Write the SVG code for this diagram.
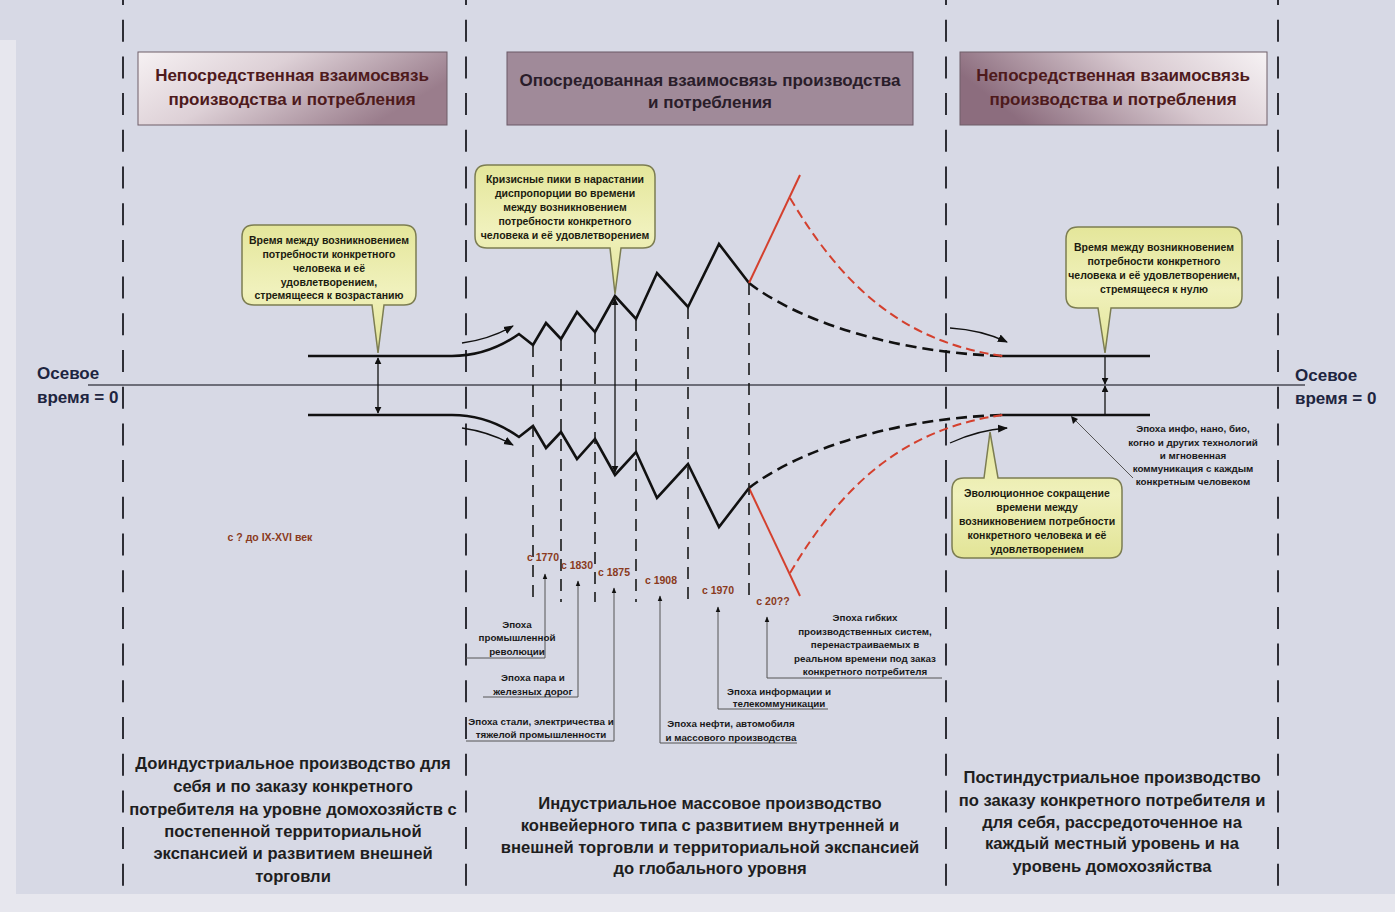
<svg xmlns="http://www.w3.org/2000/svg" width="1395" height="912" viewBox="0 0 1395 912">
<style>
text{font-family:"Liberation Sans",Arial,sans-serif;font-weight:bold;text-anchor:middle}
.hdr{font-size:17px;fill:#4e1a1c}
.hdr2{font-size:17px;fill:#2a1d2a}
.ax{font-size:17px;fill:#1e2540;text-anchor:start}
.co{font-size:10.5px;fill:#1c1c10}
.ep{font-size:9.8px;fill:#1a1a1a}
.dt{font-size:10.5px;fill:#8a3a20}
.bt{font-size:16.6px;fill:#1e1e1e}
.sep{stroke:#2e2e36;stroke-width:2;stroke-dasharray:22 14.7;stroke-dashoffset:17;fill:none}
.main{stroke:#111;stroke-width:2.6;fill:none;stroke-linejoin:miter}
.dsh{stroke:#111;stroke-width:2.6;fill:none;stroke-dasharray:11 6}
.red{stroke:#d4402e;stroke-width:2;fill:none}
.redd{stroke:#d4402e;stroke-width:2;fill:none;stroke-dasharray:9 5}
.vd{stroke:#1a1a1a;stroke-width:1.6;fill:none;stroke-dasharray:12 8}
.thin{stroke:#555;stroke-width:1;fill:none}
.arr{stroke:#111;stroke-width:1.3;fill:none}
.call{fill:url(#gY);stroke:#7c7d52;stroke-width:1.5}
</style>
<defs>
<linearGradient id="gH1" x1="0" y1="0" x2="1" y2="0.4">
<stop offset="0" stop-color="#f6f1f3"/><stop offset="0.45" stop-color="#ddd0d6"/><stop offset="1" stop-color="#9a7d8c"/>
</linearGradient>
<linearGradient id="gH3" x1="0" y1="0.3" x2="1" y2="0">
<stop offset="0" stop-color="#8c6d7e"/><stop offset="0.55" stop-color="#d8c9d0"/><stop offset="1" stop-color="#f6f2f4"/>
</linearGradient>
<linearGradient id="gY" x1="0" y1="0" x2="0" y2="1">
<stop offset="0" stop-color="#e4e69a"/><stop offset="0.5" stop-color="#f0f1bc"/><stop offset="1" stop-color="#e2e496"/>
</linearGradient>
<marker id="ah" viewBox="0 0 10 10" refX="9" refY="5" markerWidth="7" markerHeight="7" orient="auto-start-reverse" markerUnits="userSpaceOnUse">
<path d="M0,0 L10,5 L0,10 Z" fill="#111"/>
</marker>
<marker id="ahs" viewBox="0 0 10 10" refX="9" refY="5" markerWidth="6" markerHeight="6" orient="auto-start-reverse" markerUnits="userSpaceOnUse">
<path d="M0,1 L10,5 L0,9 Z" fill="#111"/>
</marker>
<marker id="ahc" viewBox="0 0 10 10" refX="9" refY="5" markerWidth="10" markerHeight="10" orient="auto" markerUnits="userSpaceOnUse">
<path d="M0,1 L10,5 L0,9 Z" fill="#111"/>
</marker>
</defs>

<rect x="0" y="0" width="1395" height="912" fill="#d7d9e5"/>
<rect x="0" y="40" width="16" height="872" fill="#e7e7ee"/>
<rect x="0" y="894" width="1395" height="18" fill="#e7e7ee"/>

<g id="separators">
<line class="sep" x1="123" y1="0" x2="123" y2="892"/>
<line class="sep" x1="466" y1="0" x2="466" y2="892"/>
<line class="sep" x1="946" y1="0" x2="946" y2="892"/>
<line class="sep" x1="1278" y1="0" x2="1278" y2="892"/>
</g>

<g id="header-left">
<rect x="138" y="52" width="309" height="73" fill="url(#gH1)" stroke="#6f5e68" stroke-width="1"/>
<text class="hdr" x="292" y="81">Непосредственная взаимосвязь</text>
<text class="hdr" x="292" y="105">производства и потребления</text>
</g>
<g id="header-middle">
<rect x="507" y="52" width="406" height="73" fill="#a08a99" stroke="#6a5866" stroke-width="1"/>
<text class="hdr2" x="710" y="86">Опосредованная взаимосвязь производства</text>
<text class="hdr2" x="710" y="108">и потребления</text>
</g>
<g id="header-right">
<rect x="960" y="52" width="307" height="73" fill="url(#gH3)" stroke="#6f5e68" stroke-width="1"/>
<text class="hdr" x="1113" y="81">Непосредственная взаимосвязь</text>
<text class="hdr" x="1113" y="105">производства и потребления</text>
</g>

<g id="axis">
<line x1="88" y1="385" x2="1305" y2="385" stroke="#4a4a55" stroke-width="1.3"/>
<text class="ax" x="37" y="379">Осевое</text>
<text class="ax" x="37" y="403">время = 0</text>
<text class="ax" x="1295" y="381">Осевое</text>
<text class="ax" x="1295" y="404">время = 0</text>
</g>

<g id="connectors">
<path class="main" d="M308,356 L452,356 Q488,356 519,334 L533,345 L546,323 L561,339 L577,312 L595,332 L615,296 L636,319 L657,273 L688,307 L719,244 L749,283"/>
<path class="dsh" d="M749,283 C790,315 880,352 1003,356"/>
<line class="main" x1="1000" y1="356" x2="1150" y2="356"/>
<path class="red" d="M749,283 L800,175"/>
<path class="redd" d="M790,198 C840,282 900,342 1003,356"/>
<path class="main" d="M308,415 L452,415 Q488,415 519,437 L533,426 L546,448 L561,432 L577,459 L595,439 L615,475 L636,452 L657,498 L688,464 L719,527 L749,488"/>
<path class="dsh" d="M749,488 C790,456 880,419 1003,415"/>
<line class="main" x1="1000" y1="415" x2="1150" y2="415"/>
<path class="red" d="M749,488 L800,596"/>
<path class="redd" d="M790,573 C840,489 900,429 1003,415"/>

<line class="vd" x1="533" y1="345" x2="533" y2="602"/>
<line class="vd" x1="561" y1="339" x2="561" y2="602"/>
<line class="vd" x1="595" y1="332" x2="595" y2="602"/>
<line class="vd" x1="636" y1="319" x2="636" y2="602"/>
<line class="vd" x1="688" y1="307" x2="688" y2="602"/>
<line class="vd" x1="749" y1="283" x2="749" y2="602"/>

<line class="arr" x1="378" y1="358" x2="378" y2="413" marker-start="url(#ah)" marker-end="url(#ah)"/>
<line class="arr" x1="615" y1="299" x2="615" y2="472" marker-start="url(#ah)" marker-end="url(#ah)"/>
<line class="arr" x1="1105" y1="356" x2="1105" y2="384" marker-end="url(#ah)"/>
<line class="arr" x1="1105" y1="415" x2="1105" y2="386" marker-end="url(#ah)"/>

<path class="arr" d="M462,343 Q490,339 513,326" marker-end="url(#ahc)"/>
<path class="arr" d="M462,428 Q490,432 513,445" marker-end="url(#ahc)"/>
<path class="arr" d="M950,328 Q982,330 1007,342" marker-end="url(#ahc)"/>
<path class="arr" d="M950,443 Q978,430 1007,428" marker-end="url(#ahc)"/>

<polyline class="thin" points="466,658 545,658 545,574" marker-end="url(#ahs)"/>
<polyline class="thin" points="483,697 578,697 578,581" marker-end="url(#ahs)"/>
<polyline class="thin" points="466,741 614,741 614,588" marker-end="url(#ahs)"/>
<polyline class="thin" points="797,743 660,743 660,596" marker-end="url(#ahs)"/>
<polyline class="thin" points="828,709 718,709 718,607" marker-end="url(#ahs)"/>
<polyline class="thin" points="942,678 767,678 767,617" marker-end="url(#ahs)"/>
<line class="thin" x1="1133" y1="478" x2="1074" y2="419"/>
<path d="M1071,416 L1078,419 L1073,424 Z" fill="#111"/>
</g>

<g id="callout-left">
<path class="call" d="M254,225 H404 Q416,225 416,237 V293 Q416,305 404,305 H384 L378,353 L372,305 H254 Q242,305 242,293 V237 Q242,225 254,225 Z"/>
<text class="co" x="329" y="244">Время между возникновением</text>
<text class="co" x="329" y="258">потребности конкретного</text>
<text class="co" x="329" y="272">человека и её</text>
<text class="co" x="329" y="286">удовлетворением,</text>
<text class="co" x="329" y="299">стремящееся к возрастанию</text>
</g>
<g id="callout-middle">
<path class="call" d="M487,165 H643 Q655,165 655,177 V236 Q655,248 643,248 H621 L615,294 L610,248 H487 Q475,248 475,236 V177 Q475,165 487,165 Z"/>
<text class="co" x="565" y="183">Кризисные пики в нарастании</text>
<text class="co" x="565" y="197">диспропорции во времени</text>
<text class="co" x="565" y="211">между возникновением</text>
<text class="co" x="565" y="225">потребности конкретного</text>
<text class="co" x="565" y="239">человека и её удовлетворением</text>
</g>
<g id="callout-right">
<path class="call" d="M1078,227 H1230 Q1242,227 1242,239 V296 Q1242,308 1230,308 H1111 L1105,353 L1098,308 H1078 Q1066,308 1066,296 V239 Q1066,227 1078,227 Z"/>
<text class="co" x="1154" y="251">Время между возникновением</text>
<text class="co" x="1154" y="265">потребности конкретного</text>
<text class="co" x="1154" y="279">человека и её удовлетворением,</text>
<text class="co" x="1154" y="293">стремящееся к нулю</text>
</g>
<g id="callout-lower">
<path class="call" d="M964,478 H984 L990,432 L998,478 H1110 Q1122,478 1122,490 V546 Q1122,558 1110,558 H964 Q952,558 952,546 V490 Q952,478 964,478 Z"/>
<text class="co" x="1037" y="497">Эволюционное сокращение</text>
<text class="co" x="1037" y="511">времени между</text>
<text class="co" x="1037" y="525">возникновением потребности</text>
<text class="co" x="1037" y="539">конкретного человека и её</text>
<text class="co" x="1037" y="553">удовлетворением</text>
</g>

<g id="dates">
<text class="dt" x="270" y="541">с ? до IX-XVI век</text>
<text class="dt" x="543" y="561">с 1770</text>
<text class="dt" x="577" y="569">с 1830</text>
<text class="dt" x="614" y="576">с 1875</text>
<text class="dt" x="661" y="584">с 1908</text>
<text class="dt" x="718" y="594">с 1970</text>
<text class="dt" x="773" y="605">с 20??</text>
</g>

<g id="epoch-industrial">
<text class="ep" x="517" y="628">Эпоха</text>
<text class="ep" x="517" y="641">промышленной</text>
<text class="ep" x="517" y="655">революции</text>
</g>
<g id="epoch-steam">
<text class="ep" x="533" y="681">Эпоха пара и</text>
<text class="ep" x="533" y="695">железных дорог</text>
</g>
<g id="epoch-steel">
<text class="ep" x="541" y="725">Эпоха стали, электричества и</text>
<text class="ep" x="541" y="738">тяжелой промышленности</text>
</g>
<g id="epoch-oil">
<text class="ep" x="731" y="727">Эпоха нефти, автомобиля</text>
<text class="ep" x="731" y="741">и массового производства</text>
</g>
<g id="epoch-info">
<text class="ep" x="779" y="695">Эпоха информации и</text>
<text class="ep" x="779" y="707">телекоммуникации</text>
</g>
<g id="epoch-flex">
<text class="ep" x="865" y="621">Эпоха гибких</text>
<text class="ep" x="865" y="635">производственных систем,</text>
<text class="ep" x="865" y="648">перенастраиваемых в</text>
<text class="ep" x="865" y="662">реальном времени под заказ</text>
<text class="ep" x="865" y="675">конкретного потребителя</text>
</g>
<g id="epoch-nano">
<text class="ep" x="1193" y="432">Эпоха инфо, нано, био,</text>
<text class="ep" x="1193" y="446">когно и других технологий</text>
<text class="ep" x="1193" y="459">и мгновенная</text>
<text class="ep" x="1193" y="472">коммуникация с каждым</text>
<text class="ep" x="1193" y="485">конкретным человеком</text>
</g>

<g id="bottom-left">
<text class="bt" x="293" y="769">Доиндустриальное производство для</text>
<text class="bt" x="293" y="792">себя и по заказу конкретного</text>
<text class="bt" x="293" y="815">потребителя на уровне домохозяйств с</text>
<text class="bt" x="293" y="837">постепенной территориальной</text>
<text class="bt" x="293" y="859">экспансией и развитием внешней</text>
<text class="bt" x="293" y="882">торговли</text>
</g>
<g id="bottom-middle">
<text class="bt" x="710" y="809">Индустриальное массовое производство</text>
<text class="bt" x="710" y="831">конвейерного типа с развитием внутренней и</text>
<text class="bt" x="710" y="853">внешней торговли и территориальной экспансией</text>
<text class="bt" x="710" y="874">до глобального уровня</text>
</g>
<g id="bottom-right">
<text class="bt" x="1112" y="783">Постиндустриальное производство</text>
<text class="bt" x="1112" y="806">по заказу конкретного потребителя и</text>
<text class="bt" x="1112" y="828">для себя, рассредоточенное на</text>
<text class="bt" x="1112" y="849">каждый местный уровень и на</text>
<text class="bt" x="1112" y="872">уровень домохозяйства</text>
</g>
</svg>
